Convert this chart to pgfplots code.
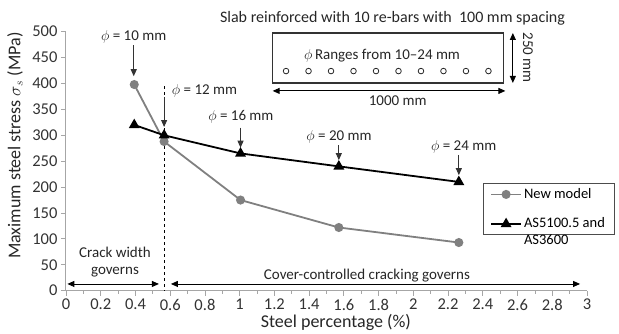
\documentclass[border=0pt]{standalone}
\usepackage{pgfplots}
\pgfplotsset{compat=1.18}
\usepackage{fontspec}
\setmainfont{Carlito}
\usetikzlibrary{arrows.meta}
\definecolor{newgray}{HTML}{808080}
\definecolor{axgray}{HTML}{A6A6A6}
\newcommand{\af}{\fontsize{15}{17}\selectfont}
\begin{document}
\begin{tikzpicture}[x=1pt,y=1pt]
\begin{axis}[
  at={(0,0)}, anchor=south west,
  scale only axis, width=521pt, height=259pt,
  xmin=0, xmax=3, ymin=0, ymax=500,
  axis lines*=left,
  axis line style={axgray, line width=1pt},
  tick style={axgray, line width=0.8pt},
  tick align=outside,
  major tick length=5pt, minor tick length=3pt,
  xtick distance=0.2, minor x tick num=1,
  ytick distance=50,
  /pgf/number format/assume math mode=true,
  tick label style={font=\fontsize{16.5}{18}\selectfont, text=black!80},
  clip=false,
  xlabel={Steel percentage (\%)},
  ylabel={Maximum steel stress $\sigma_s$ (MPa)},
  every axis x label/.style={at={(axis description cs:0.518,0)}, yshift=-32pt, anchor=center, font=\fontsize{18}{20}\selectfont, text=black!85},
  every axis y label/.style={at={(axis description cs:0,0.56)}, xshift=-51pt, rotate=90, anchor=center, font=\fontsize{18}{20}\selectfont, text=black!85},
  legend style={at={(axis description cs:0.800,0.416)}, anchor=north west,
    draw=black!70, line width=0.8pt, font=\fontsize{14.5}{16.5}\selectfont,
    cells={anchor=base west}, row sep=14pt, inner xsep=7pt, inner ysep=3pt},
  legend image code/.code={\draw[mark repeat=2,mark phase=2,#1] plot coordinates {(0pt,4pt) (15pt,4pt) (30pt,4pt)};},
]
\addplot[newgray, line width=1.8pt, mark=*, mark size=3.6pt, mark options={fill=newgray, draw=newgray}]
  coordinates {(0.393,398) (0.565,288) (1.005,175) (1.571,122) (2.262,93)};
\addlegendentry{New model}
\addplot[black, line width=1.8pt, mark=triangle*, mark size=4.5pt, mark options={fill=black}]
  coordinates {(0.393,320) (0.565,300) (1.005,265) (1.571,240) (2.262,210)};
\addlegendentry{\vtop{\hbox{AS5100.5 and}\hbox{AS3600}}}

% slab schematic
\addplot[only marks, forget plot, mark=o, mark size=2.8pt, black!85, line width=0.8pt, mark options={solid}]
  coordinates {(1.267,424) (1.3965,424) (1.526,424) (1.6555,424) (1.785,424) (1.9145,424) (2.044,424) (2.1735,424) (2.303,424) (2.4325,424)};
\draw[black!80, line width=1.1pt] (axis cs:1.19,497.5) rectangle (axis cs:2.52,401);
\node[font=\fontsize{16}{18}\selectfont, text=black!85] at (axis cs:1.88,526) {Slab reinforced with 10 re-bars with\ \ 100 mm spacing};
\node[font=\af, text=black!85] at (axis cs:1.82,453) {$\phi$\,Ranges from 10–24 mm};
\draw[{Triangle[length=7pt,width=6pt]}-{Triangle[length=7pt,width=6pt]}, black, line width=0.9pt] (axis cs:1.19,385.7) -- (axis cs:2.53,385.7);
\node[font=\af, text=black!85] at (axis cs:1.91,366) {1000 mm};
\draw[{Triangle[length=7pt,width=6pt]}-{Triangle[length=7pt,width=6pt]}, black, line width=0.9pt] (axis cs:2.573,497.5) -- (axis cs:2.573,401);
\node[font=\af, text=black!85, rotate=-90] at (axis cs:2.66,450) {250 mm};

% phi annotations
\node[font=\af, text=black!85] at (axis cs:0.39,489) {$\phi$ = 10 mm};
\draw[-{Triangle[length=7pt,width=6pt]}, black!80, line width=0.9pt] (axis cs:0.39,474) -- (axis cs:0.39,414);
\draw[dashed, black, line width=1pt] (axis cs:0.565,395) -- (axis cs:0.565,0);
\node[font=\af, text=black!85, anchor=west] at (axis cs:0.59,385.7) {$\phi$ = 12 mm};
\draw[-{Triangle[length=7pt,width=6pt]}, black!80, line width=0.9pt] (axis cs:0.565,374) -- (axis cs:0.565,316);
\node[font=\af, text=black!85] at (axis cs:1.007,335) {$\phi$ = 16 mm};
\draw[-{Triangle[length=7pt,width=6pt]}, black!80, line width=0.9pt] (axis cs:1.005,315) -- (axis cs:1.005,276);
\node[font=\af, text=black!85] at (axis cs:1.572,296) {$\phi$ = 20 mm};
\draw[-{Triangle[length=7pt,width=6pt]}, black!80, line width=0.9pt] (axis cs:1.571,281) -- (axis cs:1.571,252);
\node[font=\af, text=black!85] at (axis cs:2.29,277) {$\phi$ = 24 mm};
\draw[-{Triangle[length=7pt,width=6pt]}, black!80, line width=0.9pt] (axis cs:2.262,262) -- (axis cs:2.262,223);

% governing regions
\node[font=\af, text=black!85, align=center] at (axis cs:0.282,56) {Crack width\\governs};
\draw[{Triangle[length=7pt,width=6pt]}-{Triangle[length=7pt,width=6pt]}, black, line width=0.9pt] (axis cs:0.008,13) -- (axis cs:0.535,13);
\node[font=\af, text=black!85] at (axis cs:1.733,30) {Cover-controlled cracking governs};
\draw[{Triangle[length=7pt,width=6pt]}-{Triangle[length=7pt,width=6pt]}, black, line width=0.9pt] (axis cs:0.604,13) -- (axis cs:2.96,13);
\end{axis}
\pgfresetboundingbox
\useasboundingbox (-66,-43.3) rectangle (553,290.7);
\end{tikzpicture}
\end{document}
